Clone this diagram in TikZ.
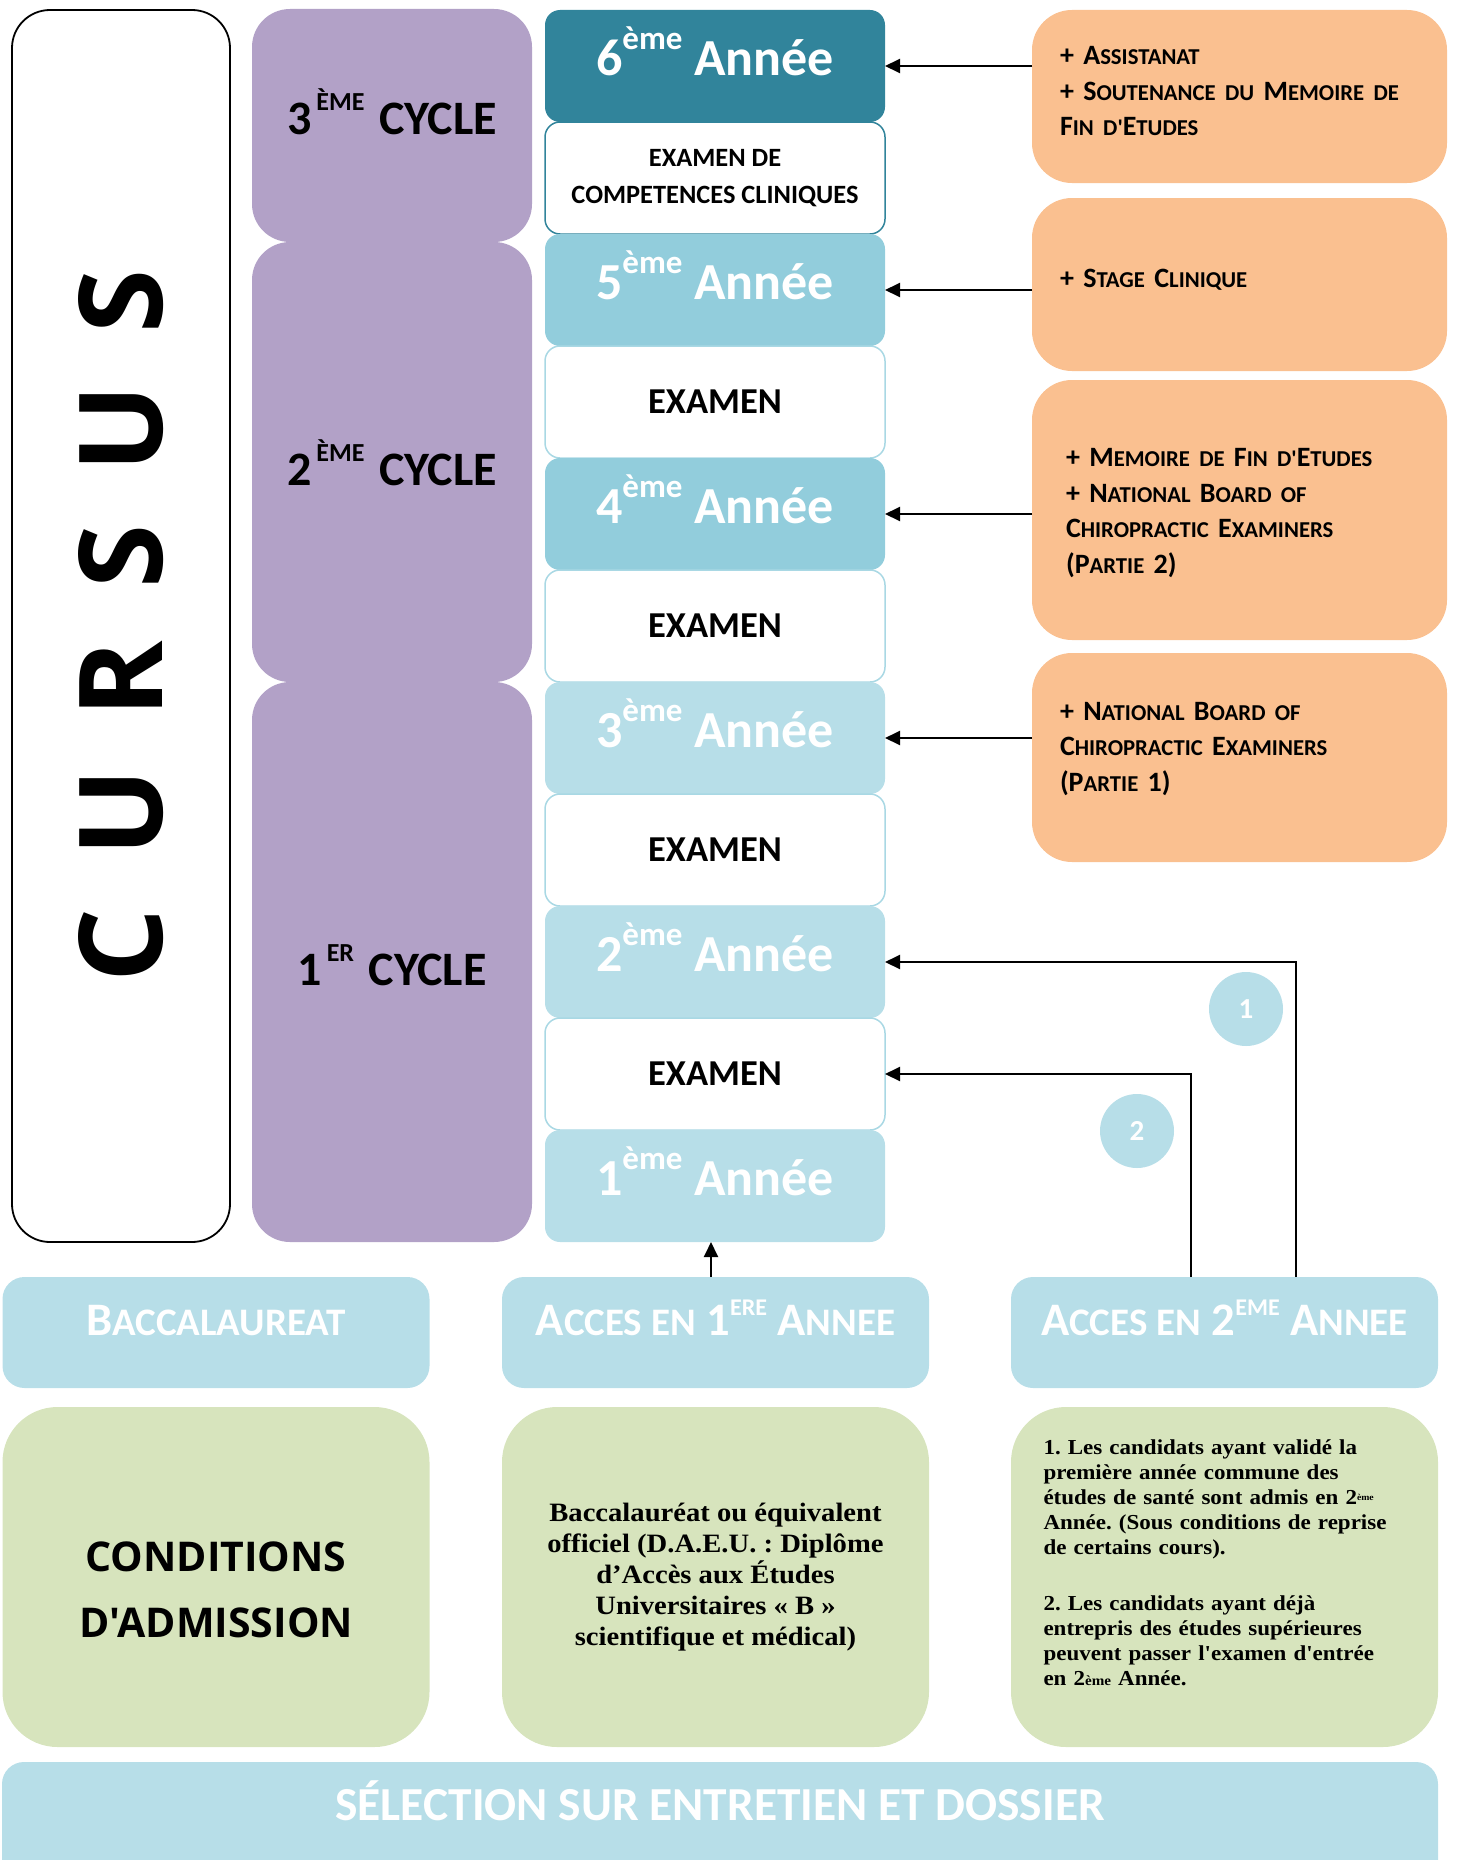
\documentclass[tikz,border=0pt]{standalone}
\usepackage{fontspec}
\setmainfont{Carlito}
\newfontfamily\osans{Open Sans}
\newfontfamily\camb[FakeStretch=1.08]{Liberation Serif}
\usetikzlibrary{arrows.meta}
\frenchspacing
\definecolor{cyc}{HTML}{B2A1C7}
\definecolor{dteal}{HTML}{31849B}
\definecolor{mb}{HTML}{92CDDC}
\definecolor{lb}{HTML}{B7DEE8}
\definecolor{exb}{HTML}{A9D8E4}
\definecolor{org}{HTML}{FAC090}
\definecolor{grn}{HTML}{D7E4BD}
\newcommand\fsz[1]{\fontsize{#1}{#1}\selectfont}
\newcommand\osm[1]{{\fontsize{22.7}{35.5}\selectfont #1}}
\newcommand\bsm[1]{{\fontsize{39}{40}\selectfont #1}}
\newcommand\yrt[1]{#1\raisebox{26pt}{\fsz{33}ème} Année}
\newcommand\cyt[2]{#1\hspace{5pt}\raisebox{24pt}{\fsz{26}#2}\hspace{4pt} CYCLE}
\newcommand\bsup[1]{\raisebox{20pt}{\fsz{24}#1}}
\newcommand\apos{\textquotesingle}
\begin{document}
\begin{tikzpicture}[x=1pt,y=-1pt,
  every node/.style={inner sep=0pt, outer sep=0pt},
  cursusbox/.style={draw=black, line width=1.8pt, fill=white, rounded corners=38pt,
    minimum width=218pt, minimum height=1232pt},
  cycbox/.style={fill=cyc, rounded corners=38pt, minimum width=280pt, font=\bfseries\fsz{48}},
  yrbox/.style={rounded corners=15pt, minimum width=340pt, minimum height=112pt,
    text=white, font=\bfseries\fsz{52}, text height=40pt, text depth=22pt},
  exbox/.style={fill=white, draw=exb, line width=1.5pt, rounded corners=15pt,
    minimum width=340pt, minimum height=112pt, font=\bfseries\fsz{36.5}},
  orbox/.style={fill=org, rounded corners=40pt, minimum width=415pt},
  ortext/.style={text width=359pt, align=left, font=\bfseries\fontsize{28}{35.5}\selectfont},
  lbbox/.style={fill=lb, rounded corners=22pt, minimum width=427pt, minimum height=111pt,
    text=white, font=\bfseries\fsz{46.6}, text height=30pt, text depth=24pt},
  gbox/.style={fill=grn, rounded corners=55pt, minimum width=427pt, minimum height=340pt},
  arr/.style={-{Triangle[length=15pt,width=14pt]}, line width=2pt},
  circ/.style={circle, fill=lb, minimum size=74pt, text=white, font=\bfseries\fsz{29}}
]
\clip (0,0) rectangle (1457,1860);
% CURSUS
\node[cursusbox] (cursus) at (121,626) {};
\node[rotate=90, font=\osans\bfseries\fsz{116}] (cursust) at (cursus.center)
  {C\hspace{52pt}U\hspace{52pt}R\hspace{52pt}S\hspace{52pt}U\hspace{52pt}S};
% cycles
\node[cycbox, minimum height=233pt, text height=32pt, text depth=14pt] (c3) at (392,125.5) {\cyt{3}{ÈME}};
\node[cycbox, minimum height=440pt, text height=46pt, text depth=0pt] (c2) at (392,462) {\cyt{2}{ÈME}};
\node[cycbox, minimum height=560pt, text height=46pt, text depth=0pt] (c1) at (392,962) {\cyt{1}{ER}};
% years
\node[yrbox, fill=dteal] (y6) at (715,66) {\yrt{6}};
\node[exbox, draw=dteal, font=\bfseries\fontsize{26.4}{37}\selectfont, align=center] (exc) at (715,178) {EXAMEN DE\\COMPETENCES CLINIQUES};
\node[yrbox, fill=mb] (y5) at (715,290) {\yrt{5}};
\node[exbox] (ex4) at (715,402) {EXAMEN};
\node[yrbox, fill=mb] (y4) at (715,514) {\yrt{4}};
\node[exbox] (ex3) at (715,626) {EXAMEN};
\node[yrbox, fill=lb] (y3) at (715,738) {\yrt{3}};
\node[exbox] (ex2) at (715,850) {EXAMEN};
\node[yrbox, fill=lb] (y2) at (715,962) {\yrt{2}};
\node[exbox] (ex1) at (715,1074) {EXAMEN};
\node[yrbox, fill=lb] (y1) at (715,1186) {\yrt{1}};
% orange
\node[orbox, minimum height=173pt] (o1) at (1239.5,96.5) {};
\node[ortext] (o1t) at ([yshift=5pt]o1.center)
  {+ A\osm{SSISTANAT}\\+ S\osm{OUTENANCE DU} M\osm{EMOIRE DE}\\F\osm{IN D\apos}E\osm{TUDES}};
\node[orbox, minimum height=173pt] (o2) at (1239.5,284.5) {};
\node[ortext] (o2t) at ([yshift=5pt]o2.center)
  {+ S\osm{TAGE} C\osm{LINIQUE}};
\node[orbox, minimum height=260pt] (o3) at (1239.5,510) {};
\node[ortext, text width=353pt] (o3t) at ([xshift=3pt,yshift=-3pt]o3.center)
  {+ M\osm{EMOIRE DE} F\osm{IN D\apos}E\osm{TUDES}\\+ N\osm{ATIONAL} B\osm{OARD OF}\\C\osm{HIROPRACTIC} E\osm{XAMINERS}\\(P\osm{ARTIE} 2)};
\node[orbox, minimum height=209pt] (o4) at (1239.5,757.5) {};
\node[ortext] (o4t) at ([yshift=8.5pt]o4.center)
  {+ N\osm{ATIONAL} B\osm{OARD OF}\\C\osm{HIROPRACTIC} E\osm{XAMINERS}\\(P\osm{ARTIE} 1)};
\draw[arr] (o1.west |- y6.east) -- (y6.east);
\draw[arr] (o2.west |- y5.east) -- (y5.east);
\draw[arr] (o3.west |- y4.east) -- (y4.east);
\draw[arr] (o4.west |- y3.east) -- (y3.east);
% bottom blue row
\node[lbbox] (bac) at (216,1332.5) {B\bsm{ACCALAUREAT}};
\node[lbbox] (a1) at (715.5,1332.5) {A\bsm{CCES EN} 1\bsup{ERE} A\bsm{NNEE}};
\node[lbbox] (a2) at (1224.5,1332.5) {A\bsm{CCES EN} 2\bsup{EME} A\bsm{NNEE}};
\coordinate (p0) at ([xshift=-4.5pt]a1.north);
\draw[arr] (p0) -- (p0 |- y1.south);
\coordinate (p1) at ([xshift=71.5pt]a2.north);
\coordinate (p2) at ([xshift=-33.5pt]a2.north);
\draw[arr] (p1) |- (y2.east);
\draw[arr] (p2) |- (ex1.east);
\node[circ] (n1) at (1246,1009) {1};
\node[circ] (n2) at (1137,1131) {2};
% green row
\node[gbox] (g1) at (216,1577) {};
\node[align=center, font=\osans\bfseries\fontsize{41}{66}\selectfont] (g1t) at ([yshift=-13pt]g1.center)
  {CONDITIONS\\D'ADMISSION};
\node[gbox, align=center, font=\camb\bfseries\fontsize{26.5}{31}\selectfont] (g2) at (715.5,1577)
  {Baccalauréat ou équivalent\\officiel (D.A.E.U. : Diplôme\\d’Accès aux Études\\Universitaires « B »\\scientifique et médical)};
\node[gbox] (g3) at (1224.5,1577) {};
\node[text width=362pt, align=left, font=\camb\bfseries\fontsize{21.3}{25}\selectfont] (g3t) at ([yshift=14pt]g3.center)
  {1. Les candidats ayant validé la\\première année commune des\\études de santé sont admis en 2\raisebox{4pt}{\fontsize{9}{9}\selectfont ème}\\Année. (Sous conditions de reprise\\de certains cours).\\[31pt]2. Les candidats ayant déjà\\entrepris des études supérieures\\peuvent passer l'examen d'entrée\\en 2{\fontsize{14}{14}\selectfont ème} Année.};
% selection bar
\node[fill=lb, rounded corners=22pt, minimum width=1436pt, minimum height=138pt,
  text=white, font=\bfseries\fsz{47.4}, text height=10pt, text depth=32pt] (sel) at (720,1831)
  {SÉLECTION SUR ENTRETIEN ET DOSSIER};
\end{tikzpicture}
\end{document}
